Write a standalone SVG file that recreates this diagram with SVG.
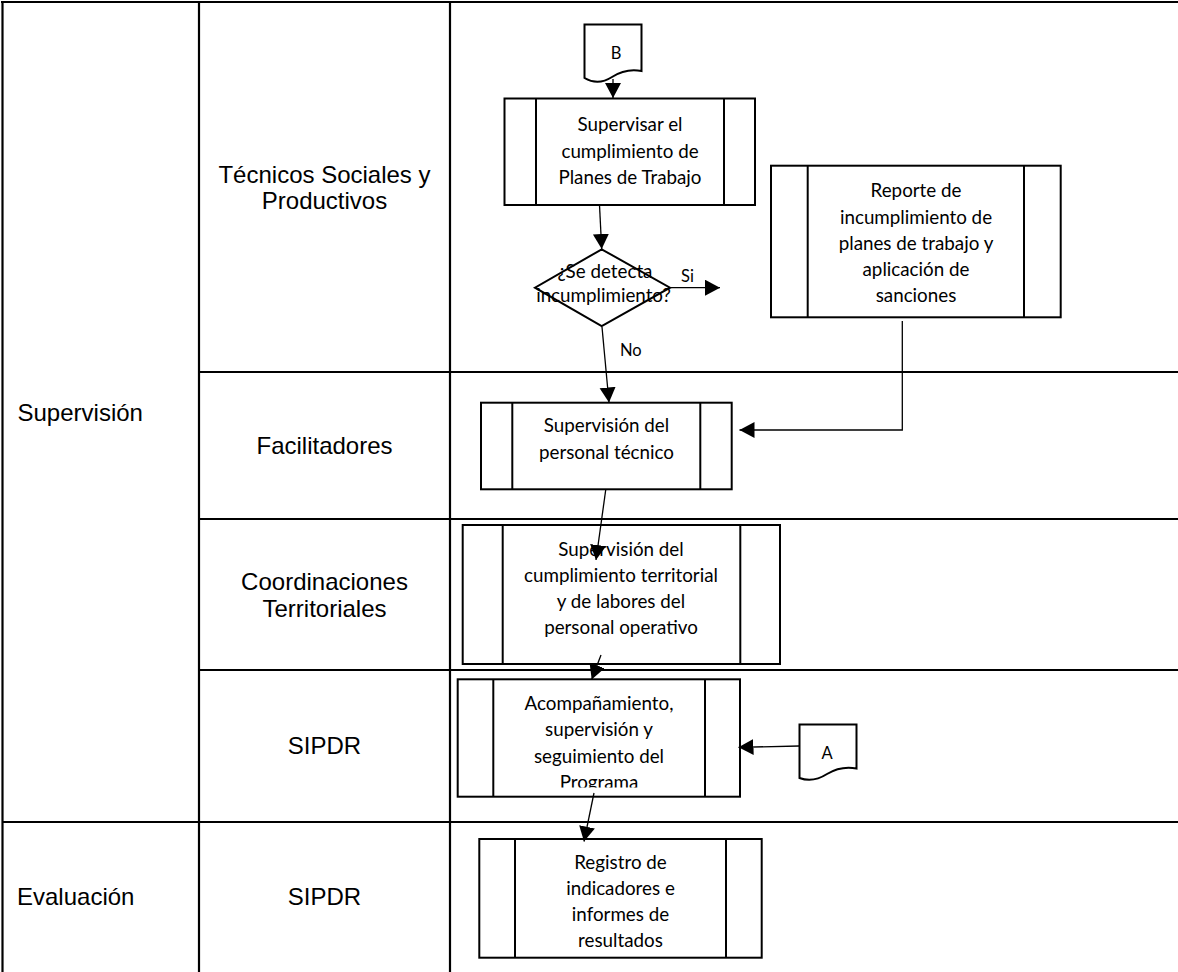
<svg xmlns="http://www.w3.org/2000/svg" width="1178" height="972" viewBox="0 0 1178 972">
<style>
.grid{stroke:#000;stroke-width:2.2;fill:none}
.lane{font-family:"Liberation Sans",Arial,sans-serif;font-size:24px;fill:#000}
.box{fill:#fff;stroke:#000;stroke-width:2}
.bar{stroke:#000;stroke-width:2}
.t{font-family:Lato,"Liberation Sans",sans-serif;font-size:18.8px;fill:#000;text-anchor:middle}
.lbl{font-family:Lato,"Liberation Sans",sans-serif;font-size:16.5px;fill:#000}
.c{stroke:#000;stroke-width:1.3;fill:none;marker-end:url(#ah)}
</style>
<defs>
<marker id="ah" markerUnits="userSpaceOnUse" markerWidth="16" markerHeight="17" refX="15" refY="8" orient="auto">
<path d="M0,0 L15,8 L0,16 z" fill="#000"/>
</marker>
<clipPath id="clipS"><rect x="458" y="680" width="282" height="107.5"/></clipPath>
</defs>
<rect width="1178" height="972" fill="#fff"/>
<g id="table">
<line class="grid" x1="1" y1="2" x2="1178" y2="2"/>
<line class="grid" x1="2.5" y1="1" x2="2.5" y2="972"/>
<line class="grid" x1="199" y1="1" x2="199" y2="972"/>
<line class="grid" x1="450" y1="1" x2="450" y2="972"/>
<line class="grid" x1="199" y1="372" x2="1178" y2="372"/>
<line class="grid" x1="199" y1="519" x2="1178" y2="519"/>
<line class="grid" x1="199" y1="670" x2="1178" y2="670"/>
<line class="grid" x1="2" y1="822" x2="1178" y2="822"/>
</g>
<g id="lanes">
<text class="lane" x="17.5" y="421">Supervisión</text>
<text class="lane" x="17" y="905">Evaluación</text>
<text class="lane" x="324.5" y="183" text-anchor="middle">Técnicos Sociales y</text>
<text class="lane" x="324.5" y="208.5" text-anchor="middle">Productivos</text>
<text class="lane" x="324.5" y="453.5" text-anchor="middle">Facilitadores</text>
<text class="lane" x="324.5" y="590" text-anchor="middle">Coordinaciones</text>
<text class="lane" x="324.5" y="616.5" text-anchor="middle">Territoriales</text>
<text class="lane" x="324.5" y="753.5" text-anchor="middle">SIPDR</text>
<text class="lane" x="324.5" y="905" text-anchor="middle">SIPDR</text>
</g>
<g id="conB">
<path class="box" d="M584.5,24.5 H641.5 V71 Q626,68 612,77 Q598,86 584.5,78 Z"/>
<text class="lbl" x="616" y="58.5" text-anchor="middle" font-size="15">B</text>
</g>
<g id="n1">
<rect class="box" x="504.5" y="98.5" width="250.5" height="106.5"/>
<line class="bar" x1="536" y1="98.5" x2="536" y2="205"/>
<line class="bar" x1="724" y1="98.5" x2="724" y2="205"/>
<text class="t" x="630" y="131">Supervisar el</text>
<text class="t" x="630" y="157.5">cumplimiento de</text>
<text class="t" x="630" y="184">Planes de Trabajo</text>
</g>
<g id="dec">
<path class="box" d="M601.7,249.3 L670,287.7 L601.7,326 L535,287.7 Z"/>
<text class="t" x="605" y="278" font-size="18">¿Se detecta</text>
<text class="t" x="603.5" y="302" font-size="18">incumplimiento?</text>
</g>
<g id="n2">
<rect class="box" x="771" y="165.7" width="289.7" height="151.6"/>
<line class="bar" x1="807.7" y1="165.7" x2="807.7" y2="317.3"/>
<line class="bar" x1="1024" y1="165.7" x2="1024" y2="317.3"/>
<text class="t" x="916" y="197">Reporte de</text>
<text class="t" x="916" y="223.5">incumplimiento de</text>
<text class="t" x="916" y="249.5">planes de trabajo y</text>
<text class="t" x="916" y="276">aplicación de</text>
<text class="t" x="916" y="302">sanciones</text>
</g>
<g id="n3">
<rect class="box" x="481" y="402.7" width="250.7" height="86.6"/>
<line class="bar" x1="512.3" y1="402.7" x2="512.3" y2="489.3"/>
<line class="bar" x1="700.3" y1="402.7" x2="700.3" y2="489.3"/>
<text class="t" x="606.5" y="432">Supervisión del</text>
<text class="t" x="606.5" y="458.5">personal técnico</text>
</g>
<g id="n4">
<rect class="box" x="462.7" y="525" width="317.3" height="139"/>
<line class="bar" x1="502.7" y1="525" x2="502.7" y2="664"/>
<line class="bar" x1="740.3" y1="525" x2="740.3" y2="664"/>
<text class="t" x="621" y="556">Supervisión del</text>
<text class="t" x="621" y="582">cumplimiento territorial</text>
<text class="t" x="621" y="608">y de labores del</text>
<text class="t" x="621" y="634">personal operativo</text>
</g>
<g id="n5">
<rect class="box" x="457.7" y="679.3" width="282.3" height="117.4"/>
<line class="bar" x1="493.3" y1="679.3" x2="493.3" y2="796.7"/>
<line class="bar" x1="705" y1="679.3" x2="705" y2="796.7"/>
<g clip-path="url(#clipS)">
<text class="t" x="599" y="709.5">Acompañamiento,</text>
<text class="t" x="599" y="736">supervisión y</text>
<text class="t" x="599" y="762.5">seguimiento del</text>
<text class="t" x="599" y="789">Programa</text>
</g>
</g>
<g id="conA">
<path class="box" d="M799.5,724.5 H856.5 V768.5 Q841,765.5 827,774 Q813,783 799.5,778 Z"/>
<text class="lbl" x="827" y="758.5" text-anchor="middle" font-size="15">A</text>
</g>
<g id="n6">
<rect class="box" x="479.3" y="839" width="282.4" height="118.7"/>
<line class="bar" x1="515" y1="839" x2="515" y2="957.7"/>
<line class="bar" x1="726" y1="839" x2="726" y2="957.7"/>
<text class="t" x="620.5" y="868.5">Registro de</text>
<text class="t" x="620.5" y="895">indicadores e</text>
<text class="t" x="620.5" y="921">informes de</text>
<text class="t" x="620.5" y="947">resultados</text>
</g>
<g id="connectors">
<path class="c" d="M613,79 L613,98"/>
<path class="c" d="M599.5,205 L601.7,249"/>
<path class="c" d="M670,287.7 L720,287.7"/>
<path class="c" d="M602,327 L609,402.5"/>
<path class="c" d="M902.3,321 L902.3,430 L739.5,430"/>
<path class="c" d="M605.7,490 L596,560"/>
<path class="c" d="M601,655 L591.7,679.5"/>
<path class="c" d="M799,746 L738.5,747.3"/>
<path class="c" d="M594,793 L584,841.5"/>
<text class="lbl" x="681" y="282">Si</text>
<text class="lbl" x="620" y="356">No</text>
</g>
</svg>
